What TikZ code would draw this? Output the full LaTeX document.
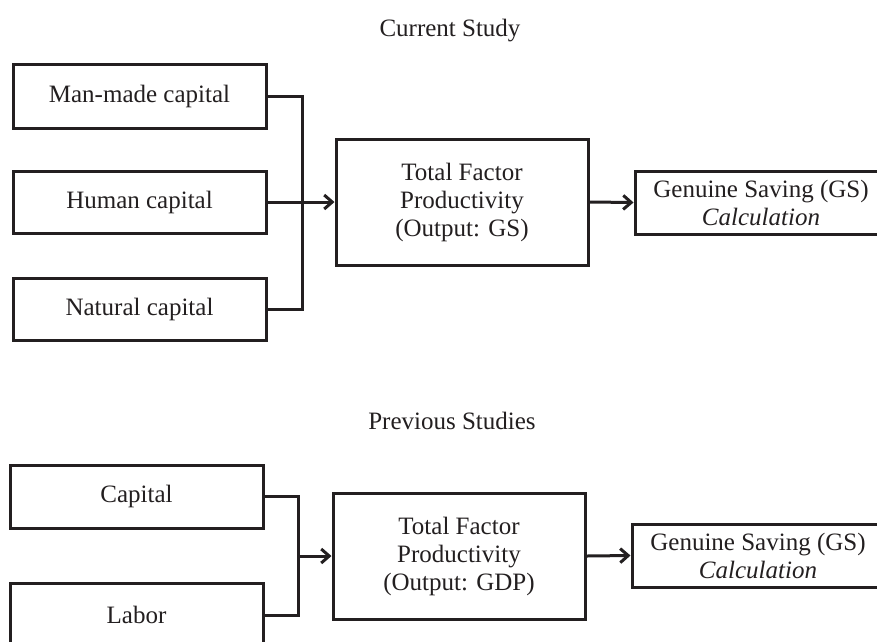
\documentclass[tikz,border=0pt]{standalone}
\usepackage{fontspec}
\setmainfont{Liberation Serif}
\usetikzlibrary{arrows.meta}
\definecolor{ink}{HTML}{231F20}
\begin{document}
\begin{tikzpicture}[x=1pt,y=-1pt,
  every node/.style={font=\fontsize{25}{28}\selectfont, text=ink},
  box/.style={draw=ink, line width=3pt, rectangle, inner sep=0pt, align=center},
  conn/.style={draw=ink, line width=3pt},
  arr/.style={conn, -{Straight Barb[length=8pt,width=14pt]}}]
\useasboundingbox[clip] (0,0) rectangle (877,641);
\fill[white] (0,0) rectangle (877,641);
% titles
\node[anchor=base] (t1) at (450,36) {Current Study};
\node[anchor=base] (t2) at (452,429) {Previous Studies};
% current study
\node[box, minimum width=253pt, minimum height=64pt] (mm) at (139.5,96) {Man-made capital};
\node[box, minimum width=253pt, minimum height=62pt] (hc) at (139.5,202) {Human capital};
\node[box, minimum width=253pt, minimum height=62pt] (nc) at (139.5,309) {Natural capital};
\node[box, minimum width=252pt, minimum height=126pt] (tfp) at (462,202) {Total Factor\\Productivity\\(Output: GS)};
\node[box, minimum width=252pt, minimum height=63pt] (gs) at (761,202.5) {Genuine Saving (GS)\\\textit{Calculation}};
\coordinate (b1) at (302,202);
\draw[conn] (mm.east) -| (b1) |- (nc.east);
\draw[arr] (hc.east) -- (tfp.west);
\draw[arr] (tfp.east) -- (gs.west);
% previous studies
\node[box, minimum width=253pt, minimum height=63pt] (cap) at (136.5,496.5) {Capital};
\node[box, minimum width=253pt, minimum height=64pt] (lab) at (136.5,615) {Labor};
\node[box, minimum width=252pt, minimum height=126pt] (tfp2) at (459,556) {Total Factor\\Productivity\\(Output: GDP)};
\node[box, minimum width=252pt, minimum height=63pt] (gs2) at (758,555.5) {Genuine Saving (GS)\\\textit{Calculation}};
\coordinate (b2) at (298,556);
\draw[conn] (cap.east) -| (b2) |- (lab.east);
\draw[arr] (b2) -- (tfp2.west);
\draw[arr] (tfp2.east) -- (gs2.west);
\end{tikzpicture}
\end{document}
